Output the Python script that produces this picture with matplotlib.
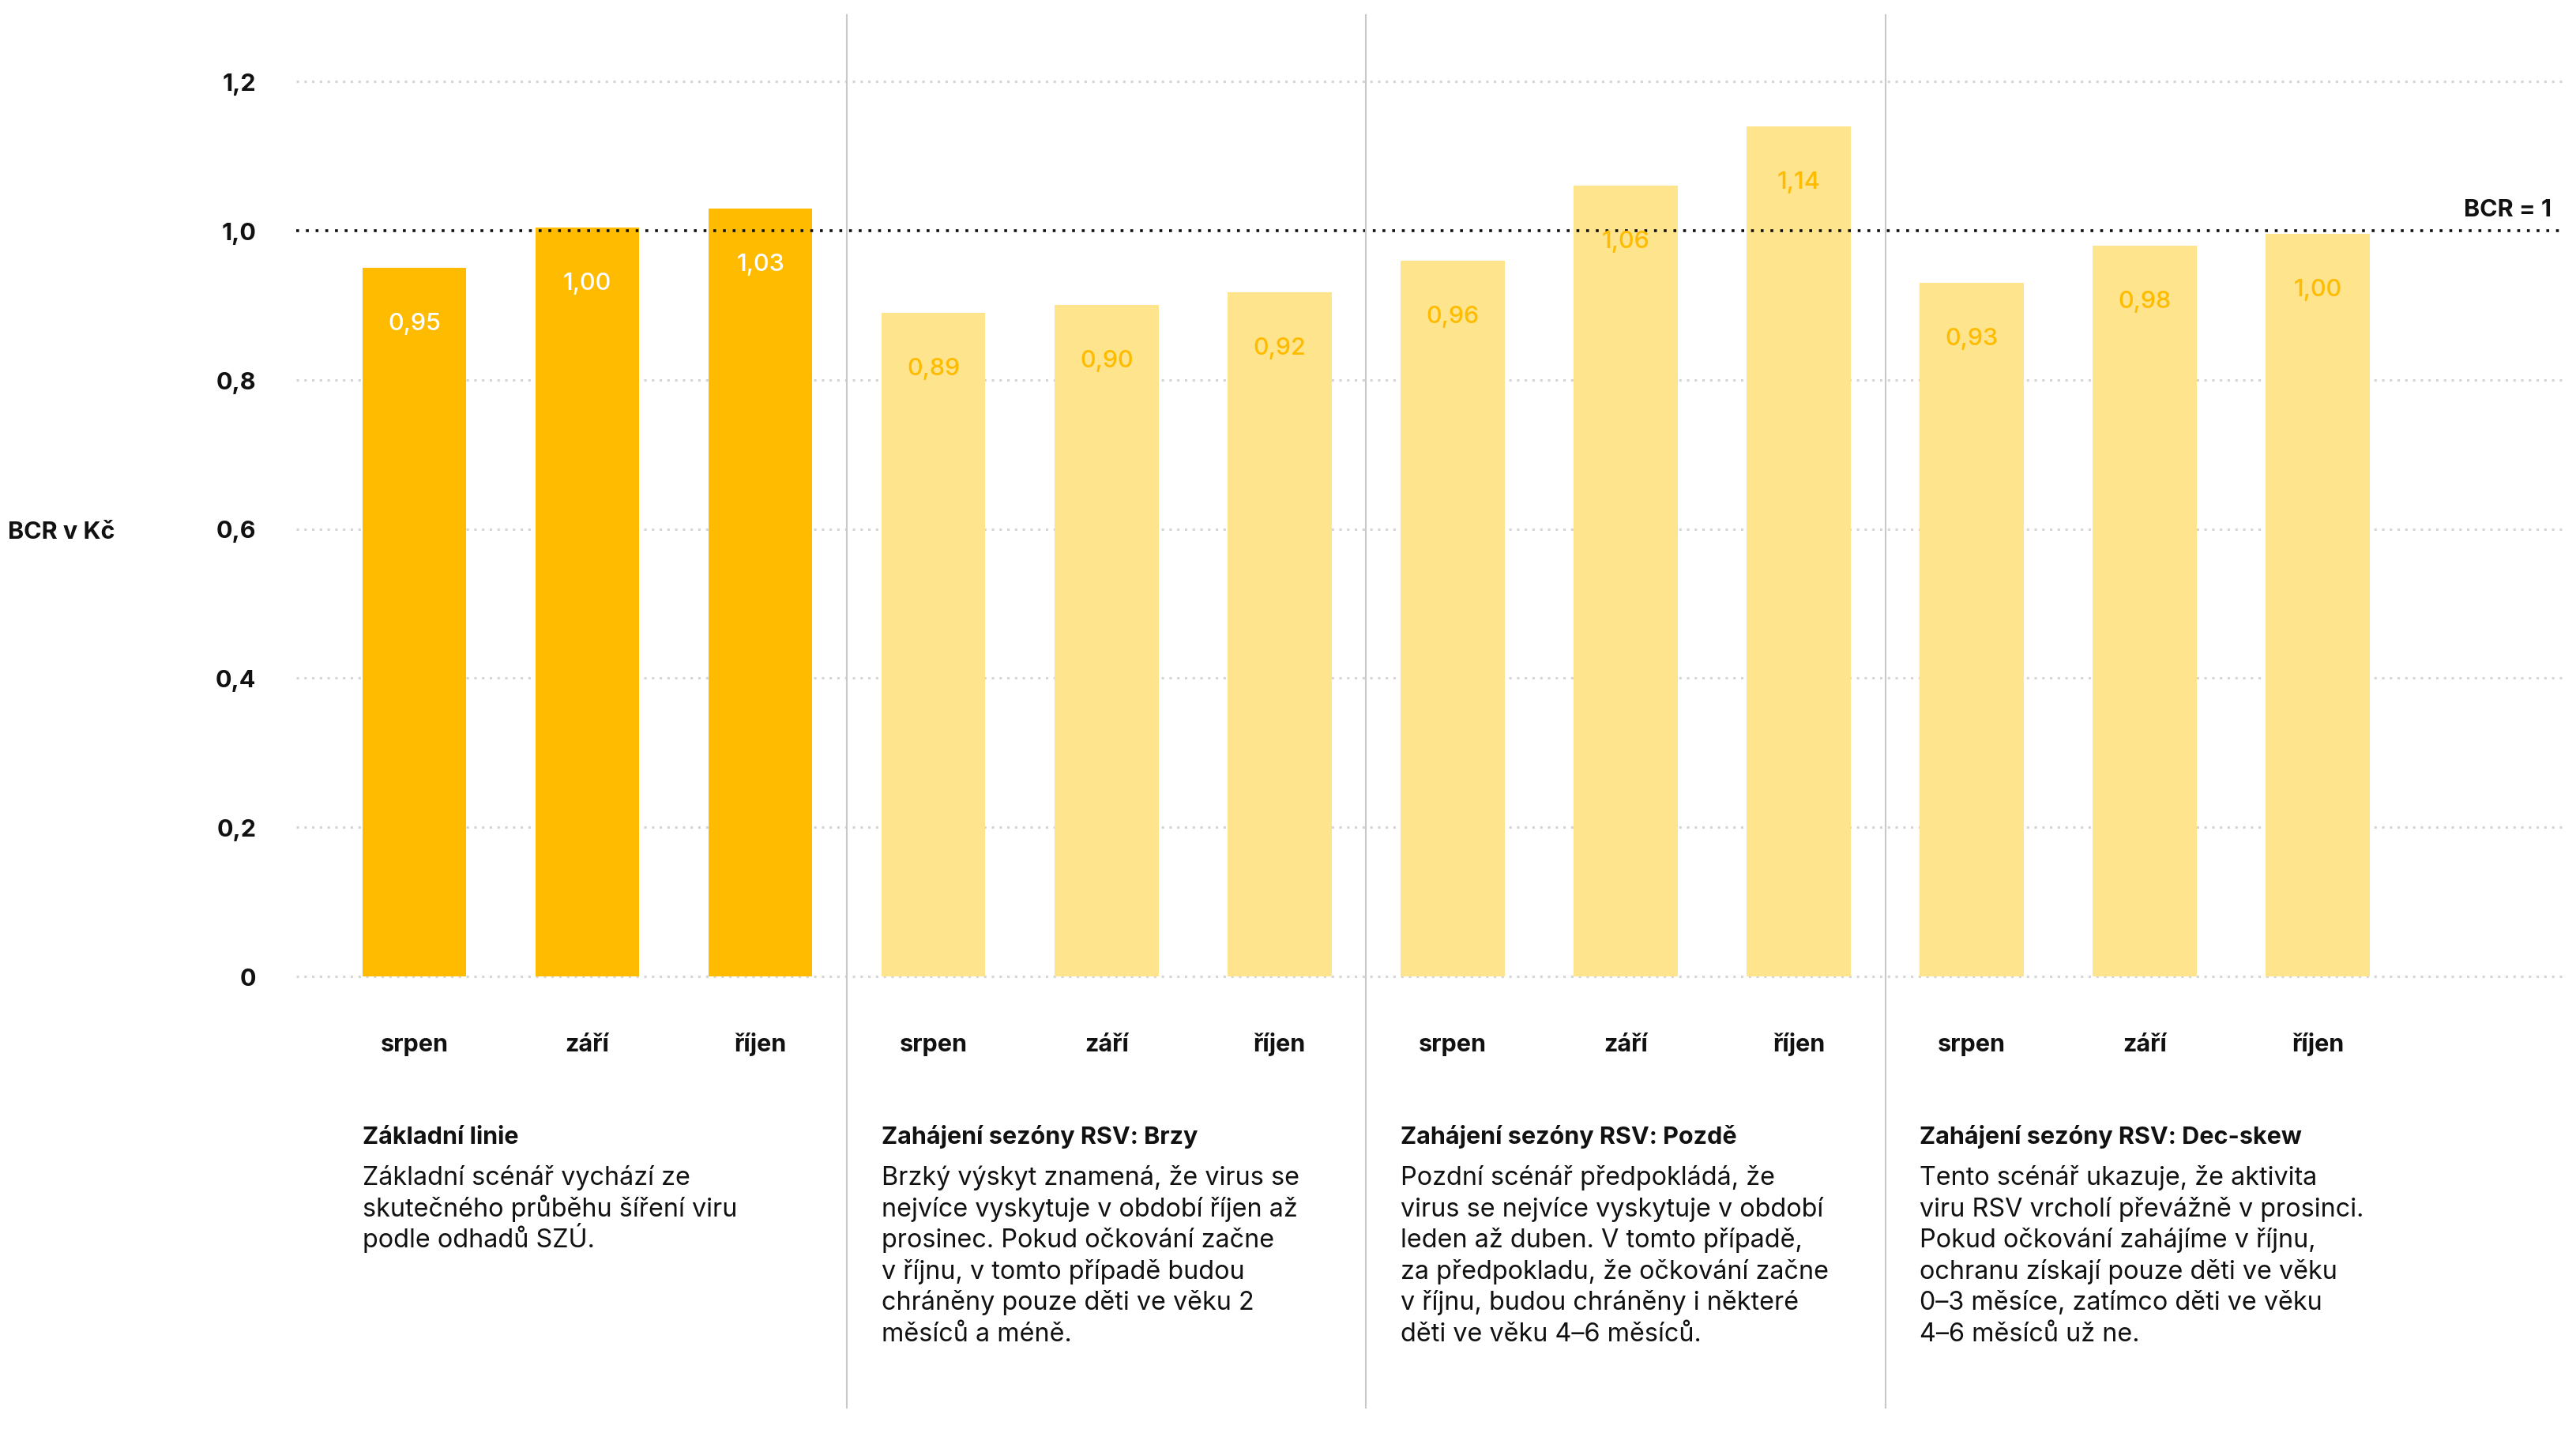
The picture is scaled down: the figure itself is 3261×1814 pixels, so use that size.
import matplotlib
matplotlib.use("Agg")
import matplotlib.pyplot as plt
from matplotlib.transforms import blended_transform_factory
from matplotlib.lines import Line2D

# ---------------- data ----------------
months = ["srpen", "září", "říjen"]
baseline_vals = [0.95, 1.004, 1.03]
early_vals = [0.89, 0.90, 0.917]
late_vals = [0.96, 1.06, 1.14]
decskew_vals = [0.93, 0.98, 0.996]

scenario_titles = [
    "Základní linie",
    "Zahájení sezóny RSV: Brzy",
    "Zahájení sezóny RSV: Pozdě",
    "Zahájení sezóny RSV: Dec-skew",
]
desc_baseline = ["Základní scénář vychází ze",
                 "skutečného průběhu šíření viru",
                 "podle odhadů SZÚ."]
desc_early = ["Brzký výskyt znamená, že virus se",
              "nejvíce vyskytuje v období říjen až",
              "prosinec. Pokud očkování začne",
              "v říjnu, v tomto případě budou",
              "chráněny pouze děti ve věku 2",
              "měsíců a méně."]
desc_late = ["Pozdní scénář předpokládá, že",
             "virus se nejvíce vyskytuje v období",
             "leden až duben. V tomto případě,",
             "za předpokladu, že očkování začne",
             "v říjnu, budou chráněny i některé",
             "děti ve věku 4–6 měsíců."]
desc_decskew = ["Tento scénář ukazuje, že aktivita",
                "viru RSV vrcholí převážně v prosinci.",
                "Pokud očkování zahájíme v říjnu,",
                "ochranu získají pouze děti ve věku",
                "0–3 měsíce, zatímco děti ve věku",
                "4–6 měsíců už ne."]

y_ticks = [0, 0.2, 0.4, 0.6, 0.8, 1.0, 1.2]
y_tick_labels = ["0", "0,2", "0,4", "0,6", "0,8", "1,0", "1,2"]
y_label = "BCR v Kč"
ref_label = "BCR = 1"
ref_value = 1.0

series = [baseline_vals, early_vals, late_vals, decskew_vals]
descriptions = [desc_baseline, desc_early, desc_late, desc_decskew]

# ---------------- style ----------------
W, H = 3261, 1815
DARK = "#FFBB00"
LIGHT = "#FEE48C"
GRID = "#d4d4d4"
SEP = "#c8c8c8"
FS = 22
FS_BODY = 23.3

plt.rcParams["font.family"] = ["Inter", "DejaVu Sans"]

fig = plt.figure(figsize=(W / 100, H / 100), dpi=100)
fig.patch.set_facecolor("white")


def fy(px):
    return 1 - px / H


ax = fig.add_axes([375 / W, fy(1237), (3243 - 375) / W, (1237 - 104) / H])
ax.set_xlim(-0.683, 12.41)
ax.set_ylim(0, 1.2)
for s in ax.spines.values():
    s.set_visible(False)
ax.set_xticks([])
ax.set_yticks(y_ticks)
ax.set_yticklabels(y_tick_labels, fontsize=FS, fontweight="bold", color="#111111")
ax.tick_params(axis="y", length=0, pad=36.5)

# gridlines
for t in y_ticks:
    if t == ref_value:
        continue
    ax.axhline(t, color=GRID, lw=2.2, linestyle=(0, (1, 2.2)), zorder=0,
               clip_on=False, dash_capstyle="butt")

# bars
for g, vals in enumerate(series):
    xs = [g * 3 + i for i in range(len(vals))]
    color = DARK if g == 0 else LIGHT
    lab_color = "white" if g == 0 else DARK
    ax.bar(xs, vals, width=0.6, color=color, zorder=2)
    for x, v in zip(xs, vals):
        ax.annotate(f"{v:.2f}".replace(".", ","), (x, v), xytext=(0, -50.5),
                    textcoords="offset points", ha="center", va="center",
                    fontsize=FS, fontweight="medium", color=lab_color, zorder=4)

# reference line
ax.axhline(ref_value, color="#111111", lw=2.6, linestyle=(0, (1, 2.4)),
           zorder=3, clip_on=False, dash_capstyle="butt")

trans = blended_transform_factory(ax.transData, fig.transFigure)

# separators
for sx in [2.5, 5.5, 8.5]:
    fig.add_artist(Line2D([sx, sx], [fy(20), fy(1783)], transform=trans,
                          color=SEP, lw=1.5, zorder=1))

# month labels
for g in range(len(series)):
    for i, m in enumerate(months):
        ax.text(g * 3 + i, fy(1331), m, transform=trans, ha="center",
                va="baseline", fontsize=FS, fontweight="bold", color="#111111")

# scenario descriptions
for g, (title, lines) in enumerate(zip(scenario_titles, descriptions)):
    x0 = g * 3 - 0.3
    ax.text(x0, fy(1448), title, transform=trans, ha="left", va="baseline",
            fontsize=FS, fontweight="bold", color="#111111")
    for k, line in enumerate(lines):
        ax.text(x0, fy(1500 + 39.6 * k), line, transform=trans, ha="left",
                va="baseline", fontsize=FS_BODY, color="#111111")

# axis title & reference label
fig.text(10 / W, fy(682), y_label, ha="left", va="baseline", fontsize=FS,
         fontweight="bold", color="#111111")
fig.text(3230 / W, fy(274), ref_label, ha="right", va="baseline", fontsize=FS,
         fontweight="bold", color="#111111")

fig.savefig("out.png", dpi=100, facecolor="white")
